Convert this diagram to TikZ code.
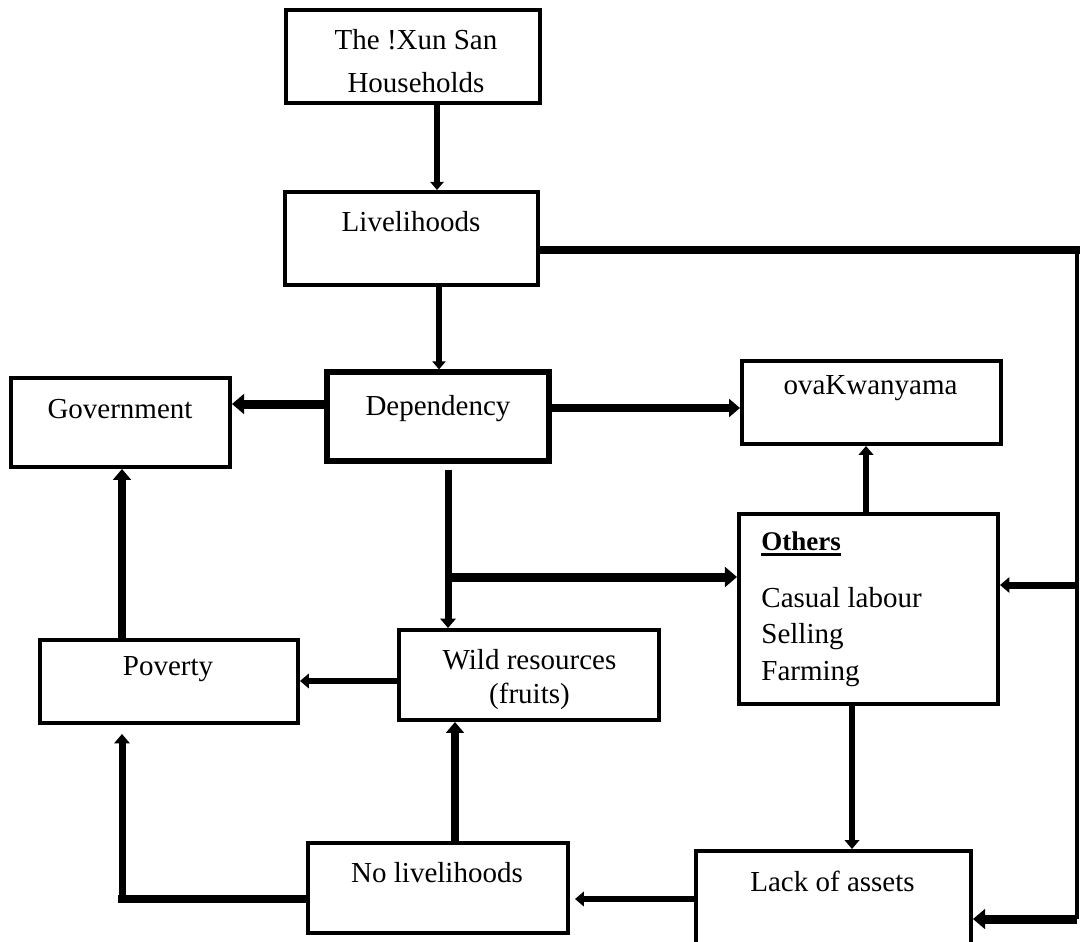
\documentclass[tikz,border=0pt]{standalone}
\usepackage{fontspec}
\setmainfont{Liberation Serif}
\usetikzlibrary{arrows.meta}
\tikzset{
  box/.style={draw, line width=2pt, inner sep=0pt, rectangle},
  txt/.style={inner sep=0pt, anchor=base, font=\fontsize{14.5}{18}\selectfont},
  ltxt/.style={txt, anchor=base west},
  con/.style={line width=#1, -{Triangle[length=0pt 1.35, width=0pt 2.2]}},
  wire/.style={line width=#1, line cap=rect},
}
\begin{document}
\begin{tikzpicture}[x=0.5pt, y=-0.5pt]
\useasboundingbox (0,0) rectangle (1080,941);
\clip (0,0) rectangle (1080,941);
% boxes
\node[box, minimum width=127pt, minimum height=46.5pt] (hh) at (413,56.5) {};
\node[box, minimum width=126.5pt, minimum height=46.5pt] (liv) at (411.5,238.5) {};
\node[box, line width=2.6pt, minimum width=111pt, minimum height=44.5pt] (dep) at (438,416.5) {};
\node[box, minimum width=109.5pt, minimum height=44.5pt] (gov) at (120.5,422.5) {};
\node[box, minimum width=129.5pt, minimum height=41.5pt] (ova) at (871.5,402.5) {};
\node[box, minimum width=129.5pt, minimum height=95pt] (oth) at (868.5,609) {};
\node[box, minimum width=130pt, minimum height=45pt] (wild) at (529,675) {};
\node[box, minimum width=129pt, minimum height=41.5pt] (pov) at (169,681.5) {};
\node[box, minimum width=130pt, minimum height=45pt] (nol) at (438,888) {};
\node[box, minimum width=137.5pt, minimum height=60pt] (lack) at (833.5,911) {};
% texts
\node[txt] (hh1) at (416,50) {The !Xun San};
\node[txt] (hh2) at (416,93) {Households};
\node[txt] (livt) at (411,232) {Livelihoods};
\node[txt] (dept) at (438,415) {Dependency};
\node[txt] (govt) at (120,418) {Government};
\node[txt] (ovat) at (870.5,394) {ovaKwanyama};
\node[ltxt, font=\fontsize{13.5}{16}\selectfont\bfseries] (oth0) at (761,550) {Others};
\draw[line width=1.4pt] ([yshift=-2.3pt]oth0.base west) -- ([yshift=-2.3pt]oth0.base east);
\node[ltxt] (oth1) at (761,607) {Casual labour};
\node[ltxt] (oth2) at (761,643) {Selling};
\node[ltxt] (oth3) at (761,680) {Farming};
\node[txt] (wild1) at (529.5,669) {Wild resources};
\node[txt] (wild2) at (529.5,703) {(fruits)};
\node[txt] (povt) at (168,675) {Poverty};
\node[txt] (nolt) at (437,882) {No livelihoods};
\node[txt] (lackt) at (832.5,891) {Lack of assets};
% helper coordinates
\coordinate (c437) at (437,0);
\coordinate (c439) at (439,0);
\coordinate (c448) at (448,0);
\coordinate (c866) at (866,0);
\coordinate (c122) at (122,0);
\coordinate (c455) at (455,0);
\coordinate (c852) at (852,0);
\coordinate (r404) at (0,404);
\coordinate (r408) at (0,408);
\coordinate (r681) at (0,681);
\coordinate (r899) at (0,899);
\coordinate (br) at (448,577);
\coordinate (rt) at (1077,250);
\coordinate (rm) at (1077,585);
\coordinate (rb) at (1077,919);
\coordinate (bl) at (122,899);
% connectors
\draw[con=3pt] (hh.south -| c437) -- (liv.north -| c437);
\draw[con=3pt] (liv.south -| c439) -- (dep.north -| c439);
\draw[con=4.5pt] (dep.west |- r404) -- (gov.east |- r404);
\draw[con=4pt] (dep.east |- r408) -- (ova.west |- r408);
\draw[con=3.5pt, shorten <=3pt] (dep.south -| c448) -- (wild.north -| c448);
\draw[con=4.5pt] (br) -- (oth.west |- br);
\draw[con=3.3pt] (oth.north -| c866) -- (ova.south -| c866);
\draw[wire=4pt] (liv.east |- rt) -- (rt);
\draw[line width=2pt] (rt) -- (rb);
\draw[con=3.5pt] (rm) -- (oth.east |- rm);
\draw[con=4.5pt] (rb) -- (lack.east |- rb);
\draw[con=3.3pt] (wild.west |- r681) -- (pov.east |- r681);
\draw[con=4pt] (pov.north -| c122) -- (gov.south -| c122);
\draw[con=4pt] (nol.north -| c455) -- (wild.south -| c455);
\draw[wire=4pt] (nol.west |- r899) -- (bl);
\draw[con=3.5pt, shorten >=4.5pt] (bl) -- (pov.south -| c122);
\draw[con=3.3pt] (oth.south -| c852) -- (lack.north -| c852);
\draw[con=3.3pt, shorten >=2.5pt] (lack.west |- r899) -- (nol.east |- r899);
\end{tikzpicture}
\end{document}
